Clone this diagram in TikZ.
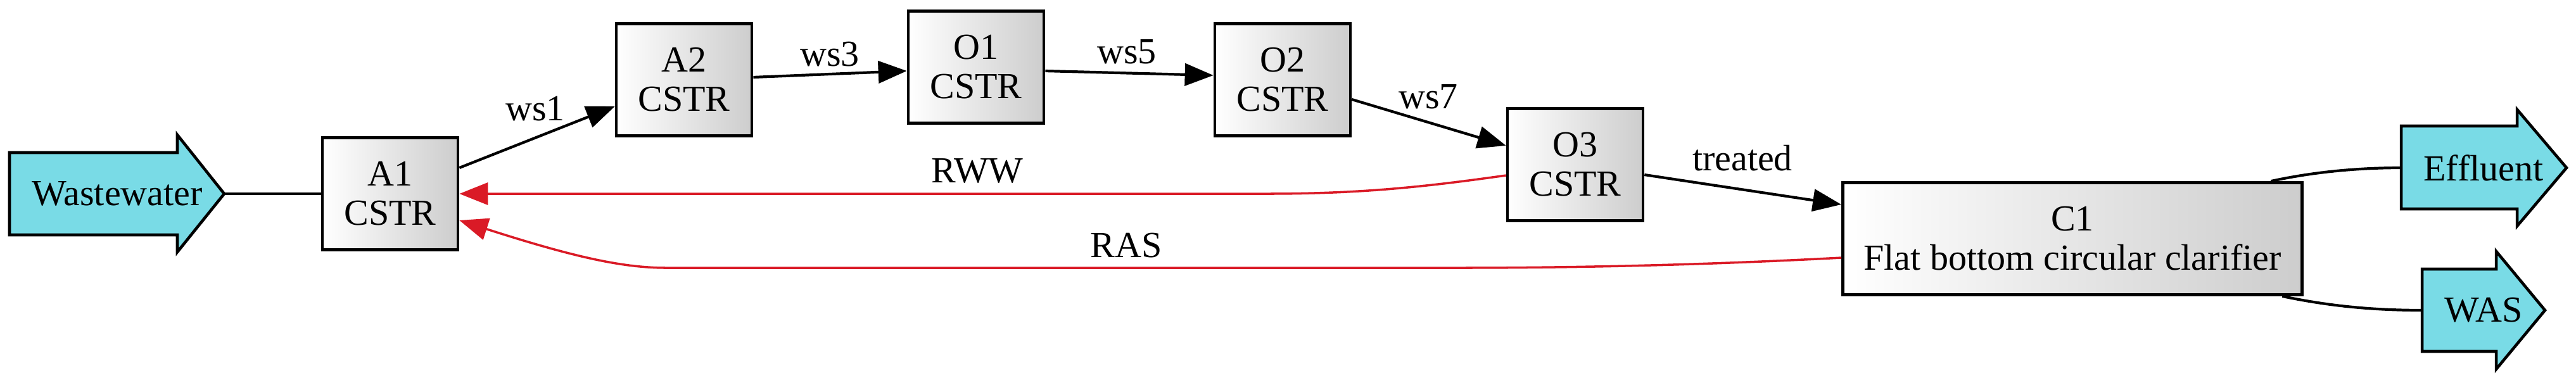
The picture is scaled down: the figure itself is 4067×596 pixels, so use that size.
\documentclass[tikz,border=0pt]{standalone}
\usepackage{fontspec}
\setmainfont{Liberation Serif}
\usetikzlibrary{arrows.meta, calc}
\definecolor{mycyan}{RGB}{121,219,230}
\definecolor{myred}{RGB}{218,26,38}
\definecolor{mygrey}{RGB}{205,205,205}
\tikzset{
  unit/.style={rectangle, draw=black, left color=white, right color=mygrey,
    minimum width=2.14cm, minimum height=1.77cm, align=center,
    line width=1.3pt, inner sep=2pt},
  ioarrow/.style={draw=black, fill=mycyan, line width=1.3pt, line join=miter},
  iolabel/.style={inner sep=0pt},
  flow/.style={-{Triangle[length=0.45cm, width=0.35cm]}, line width=1.2pt, color=black},
  recycle/.style={-{Triangle[length=0.45cm, width=0.35cm]}, line width=1pt, color=myred},
  plain/.style={line width=1.2pt, color=black},
  elabel/.style={inner sep=1pt}
}

\begin{document}
\begin{tikzpicture}[x=0.01cm, y=-0.01cm, font=\fontsize{16.5}{17.6}\selectfont]
  \useasboundingbox (0,0) rectangle (4067,596);
  % reactors and clarifier
  \node[unit] (A1) at (616,306) {A1\\CSTR};
  \node[unit] (A2) at (1080,126) {A2\\CSTR};
  \node[unit] (O1) at (1541,106) {O1\\CSTR};
  \node[unit] (O2) at (2025,126) {O2\\CSTR};
  \node[unit] (O3) at (2487,260) {O3\\CSTR};
  \node[unit, minimum width=7.25cm] (C1) at (3272,377) {C1\\Flat bottom circular clarifier};
  % influent and outflows
  \draw[ioarrow] (15,241) -- (280,241) -- (280,213) -- (354,306) -- (280,398) -- (280,371) -- (15,371) -- cycle;
  \node[iolabel] (ww) at (185,306) {Wastewater};
  \coordinate (wwtip) at (354,306);
  \draw[ioarrow] (3791,199) -- (3974,199) -- (3974,173) -- (4052,265) -- (3974,357) -- (3974,330) -- (3791,330) -- cycle;
  \node[iolabel] (eff) at (3921,265) {Effluent};
  \coordinate (effin) at (3791,265);
  \draw[ioarrow] (3824,425) -- (3941,425) -- (3941,397) -- (4018,490) -- (3941,583) -- (3941,555) -- (3824,555) -- cycle;
  \node[iolabel] (was) at (3921,490) {WAS};
  \coordinate (wasin) at (3824,490);
  % main line
  \draw[plain] (wwtip) -- (A1.west);
  \draw[flow] ([yshift=0.41cm]A1.east) -- ([yshift=-0.42cm]A2.west);
  \draw[flow] ([yshift=0.04cm]A2.east) -- ([yshift=-0.06cm]O1.west);
  \draw[flow] ([yshift=-0.06cm]O1.east) -- ([yshift=0.07cm]O2.west);
  \draw[flow] ([yshift=-0.31cm]O2.east) -- ([yshift=0.30cm]O3.west);
  \draw[flow] ([yshift=-0.16cm]O3.east) -- ([yshift=0.54cm]C1.west);
  \draw[plain] ([xshift=3.13cm]C1.north) .. controls (3650,272) and (3720,265) .. (effin);
  \draw[plain] ([xshift=3.31cm]C1.south) .. controls (3680,484) and (3750,490) .. (wasin);
  % recycles
  \draw[recycle] ([yshift=-0.17cm]O3.west) .. controls (2250,295) and (2150,306) .. (2000,306) -- (A1.east);
  \draw[recycle] ([yshift=-0.30cm]C1.west) .. controls (2700,418) and (2500,423) .. (2300,423)
    -- (1052,423) .. controls (980,423) and (900,404) .. ([yshift=-0.42cm]A1.east);
  % stream labels
  \node[elabel] (lws1) at (845,172) {ws1};
  \node[elabel] (lws3) at (1310,86) {ws3};
  \node[elabel] (lws5) at (1779,82) {ws5};
  \node[elabel] (lws7) at (2255,153) {ws7};
  \node[elabel] (ltreated) at (2751,250) {treated};
  \node[elabel] (lrww) at (1543,270) {RWW};
  \node[elabel] (lras) at (1778,388) {RAS};
\end{tikzpicture}
\end{document}
